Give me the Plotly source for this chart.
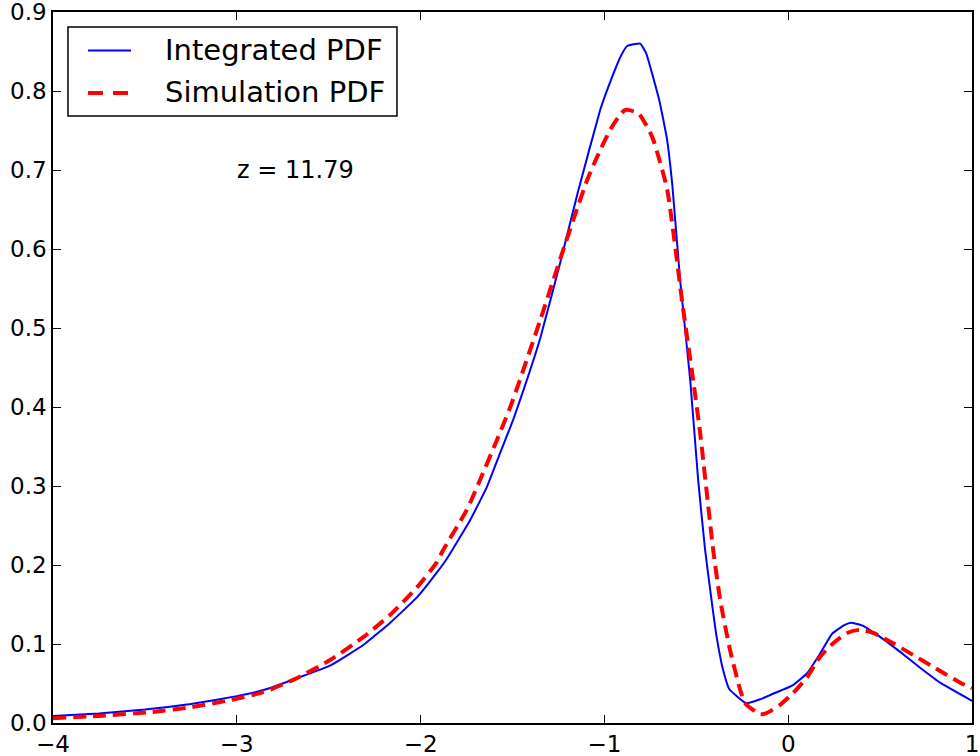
import plotly.graph_objects as go

# Integrated PDF (blue solid)
int_x = [-4.0, -3.75, -3.5, -3.25, -3.0, -2.85, -2.67, -2.49, -2.31, -2.165, -2.02, -1.91, -1.857,
         -1.73, -1.639, -1.567, -1.496, -1.422, -1.349, -1.24, -1.143, -1.023, -0.979, -0.909,
         -0.876, -0.805, -0.773,
         -0.702, -0.66, -0.63, -0.588, -0.533, -0.49, -0.452, -0.424, -0.39, -0.354, -0.321,
         -0.229, -0.152, -0.082, 0.027, 0.103, 0.174, 0.239, 0.305, 0.343, 0.408, 0.5, 0.609,
         0.718, 0.827, 1.0]
int_y = [0.009, 0.012, 0.017, 0.024, 0.034, 0.042, 0.057, 0.073, 0.099, 0.127, 0.159, 0.191, 0.208,
         0.257, 0.299, 0.342, 0.384, 0.434, 0.487, 0.583, 0.673, 0.776, 0.805, 0.845,
         0.857, 0.860, 0.848,
         0.789, 0.740, 0.680, 0.561, 0.434, 0.308, 0.219, 0.168, 0.110, 0.067, 0.043,
         0.025, 0.030, 0.037, 0.048, 0.063, 0.088, 0.113, 0.124, 0.127, 0.123, 0.109, 0.090,
         0.070, 0.051, 0.028]

# Simulation PDF (red dashed)
sim_x = [-4.0, -3.75, -3.46, -3.25, -3.036, -2.856, -2.671, -2.49, -2.31, -2.165, -2.019, -1.91,
         -1.877, -1.748, -1.676, -1.585, -1.512, -1.469, -1.349, -1.224, -1.094, -1.039, -0.968,
         -0.914, -0.887, -0.816, -0.740,
         -0.696, -0.658, -0.571, -0.517, -0.479, -0.408, -0.370, -0.316, -0.261, -0.234, -0.152,
         -0.114, -0.044, 0.027, 0.103, 0.174, 0.245, 0.321, 0.392, 0.462, 0.571, 0.680, 0.789,
         0.936, 1.0]
sim_y = [0.006, 0.009, 0.014, 0.020, 0.029, 0.039, 0.057, 0.080, 0.109, 0.137, 0.172, 0.204,
         0.219, 0.270, 0.308, 0.358, 0.400, 0.428, 0.510, 0.599, 0.687, 0.717, 0.751,
         0.770, 0.776, 0.772, 0.742,
         0.709, 0.675, 0.523, 0.434, 0.367, 0.219, 0.156, 0.092, 0.042, 0.025, 0.011,
         0.013, 0.023, 0.038, 0.058, 0.084, 0.101, 0.114, 0.118, 0.114, 0.101, 0.086, 0.071,
         0.051, 0.044]

series_names = ["Integrated PDF", "Simulation PDF"]
series_colors = ["#0000ff", "#ff0000"]

x_ticks = [-4, -3, -2, -1, 0, 1]
x_tick_text = ["\u22124", "\u22123", "\u22122", "\u22121", "0", "1"]
y_ticks = [0.0, 0.1, 0.2, 0.3, 0.4, 0.5, 0.6, 0.7, 0.8, 0.9]
y_tick_text = ["0.0", "0.1", "0.2", "0.3", "0.4", "0.5", "0.6", "0.7", "0.8", "0.9"]

annotation_text = "z = 11.79"

FONT = "DejaVu Sans"
RED_DASH = "13px,7px"

fig = go.Figure()
fig.add_trace(go.Scatter(x=int_x, y=int_y, mode="lines", name=series_names[0],
                         line=dict(color=series_colors[0], width=2, shape="spline", smoothing=0.35)))
fig.add_trace(go.Scatter(x=sim_x, y=sim_y, mode="lines", name=series_names[1],
                         line=dict(color=series_colors[1], width=4, dash=RED_DASH,
                                   shape="spline", smoothing=0.6)))

fig.add_annotation(x=-2.68, y=0.70, text=annotation_text, showarrow=False,
                   xanchor="center", yanchor="middle",
                   font=dict(family=FONT, size=24, color="black"))

# Legend drawn in paper coordinates (matplotlib-style boxed legend)
fig.add_shape(type="rect", xref="paper", yref="paper", x0=0.0163, x1=0.3743, y0=0.8537, y1=0.9789,
              line=dict(color="black", width=1.5), fillcolor="white", layer="above")
fig.add_shape(type="line", xref="paper", yref="paper", x0=0.0381, x1=0.0849, y0=0.9459, y1=0.9459,
              line=dict(color=series_colors[0], width=2), layer="above")
fig.add_shape(type="line", xref="paper", yref="paper", x0=0.0381, x1=0.0849, y0=0.8861, y1=0.8861,
              line=dict(color=series_colors[1], width=4, dash="15px,10px"), layer="above")
for yy, name in zip([0.9470, 0.8872], series_names):
    fig.add_annotation(xref="paper", yref="paper", x=0.1197, y=yy, text=name, showarrow=False,
                       xanchor="left", yanchor="middle",
                       font=dict(family=FONT, size=29, color="black"))

axis_common = dict(showline=True, linecolor="black", linewidth=1.5, mirror="ticks",
                   ticks="inside", ticklen=8, tickwidth=1, tickcolor="black",
                   showgrid=False, zeroline=False, automargin=False,
                   ticklabeloverflow="allow",
                   tickfont=dict(family=FONT, size=23, color="black"))

fig.update_layout(
    width=980, height=756,
    margin=dict(l=53, r=8, t=12, b=33, autoexpand=False),
    paper_bgcolor="white", plot_bgcolor="white",
    font=dict(family=FONT, color="black"),
    xaxis=dict(range=[-4, 1.0001], tickvals=x_ticks, ticktext=x_tick_text, **axis_common),
    yaxis=dict(range=[0, 0.90001], tickvals=y_ticks, ticktext=y_tick_text, **axis_common),
    showlegend=False,
)

fig.write_html("out.html")
